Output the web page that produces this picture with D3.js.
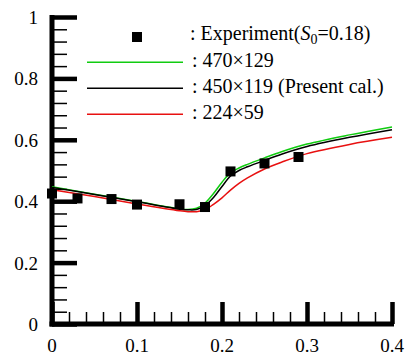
<!DOCTYPE html>
<html>
<head>
<meta charset="utf-8">
<script src="https://cdn.jsdelivr.net/npm/d3@7"></script>
<style>
  body { margin: 0; background: #fff; }
  svg text { font-family: "Liberation Serif", "Times New Roman", serif; fill: #000; }
</style>
</head>
<body>
<div class="chart"></div>
<script>
// experiment (S0 = 0.18)
var expX = [0, 0.03, 0.07, 0.1, 0.15, 0.18, 0.21, 0.25, 0.29];
var expY = [0.425, 0.409, 0.407, 0.389, 0.39, 0.381, 0.497, 0.523, 0.544];

// computed profiles, sampled along x
var curveX = [0, 0.05, 0.1, 0.15, 0.16, 0.17, 0.18, 0.19, 0.2, 0.21, 0.22, 0.23, 0.25, 0.27, 0.3, 0.35, 0.4];
var grid470 = [0.447, 0.423, 0.399, 0.375, 0.373, 0.377, 0.394, 0.425, 0.462, 0.492, 0.508, 0.52, 0.541, 0.561, 0.586, 0.616, 0.642];
var grid450 = [0.445, 0.422, 0.398, 0.374, 0.372, 0.373, 0.386, 0.412, 0.448, 0.482, 0.5, 0.512, 0.533, 0.553, 0.578, 0.608, 0.633];
var grid224 = [0.437, 0.415, 0.391, 0.369, 0.366, 0.366, 0.372, 0.39, 0.411, 0.436, 0.458, 0.476, 0.505, 0.527, 0.555, 0.585, 0.608];

var xTicks = [0, 0.1, 0.2, 0.3, 0.4];
var xMinorTicks = [0.02, 0.04, 0.06, 0.08, 0.12, 0.14, 0.16, 0.18, 0.22, 0.24, 0.26, 0.28, 0.32, 0.34, 0.36, 0.38];
var yTicks = [0, 0.2, 0.4, 0.6, 0.8, 1];
var yMinorTicks = [0.04, 0.08, 0.12, 0.16, 0.24, 0.28, 0.32, 0.36, 0.44, 0.48, 0.52, 0.56, 0.64, 0.68, 0.72, 0.76, 0.84, 0.88, 0.92, 0.96];

var series = [
  { name: ": 470\u00d7129", values: grid470, color: "#10cc10" },
  { name: ": 450\u00d7119 (Present cal.)", values: grid450, color: "#000" },
  { name: ": 224\u00d759", values: grid224, color: "#e81010" }
];

var svgWidth = 406, svgHeight = 355;

var svg = d3.select(".chart").append("svg")
  .attr("width", svgWidth)
  .attr("height", svgHeight);

var x = d3.scaleLinear().domain([0, 0.4]).range([52, 392]);
var y = d3.scaleLinear().domain([0, 1]).range([324, 17]);

// ticks pointing inward
function tickGroup(axis, transform, width) {
  var g = svg.append("g").attr("transform", transform).call(axis);
  g.select(".domain").remove();
  g.selectAll("line").attr("stroke", "#000").attr("stroke-width", width);
  return g;
}

tickGroup(d3.axisRight(y).tickValues(yMinorTicks).tickSize(15).tickFormat(""), "translate(52,0)", 1.5);
tickGroup(d3.axisRight(y).tickValues(yTicks).tickSize(25).tickFormat(""), "translate(52,0)", 4.5);
tickGroup(d3.axisTop(x).tickValues(xMinorTicks).tickSize(12).tickFormat(""), "translate(0,324)", 1.5);
tickGroup(d3.axisTop(x).tickValues(xTicks).tickSize(22).tickFormat(""), "translate(0,324)", 4.5);

// tick labels
var fmt = d3.format("");
svg.append("g").selectAll("text")
  .data(yTicks)
  .enter()
  .append("text")
  .attr("x", 38)
  .attr("y", d => y(d) + 7)
  .attr("text-anchor", "end")
  .style("font-size", "19px")
  .text(fmt);

svg.append("g").selectAll("text")
  .data(xTicks)
  .enter()
  .append("text")
  .attr("x", d => x(d))
  .attr("y", 352)
  .attr("text-anchor", "middle")
  .style("font-size", "19px")
  .text(fmt);

// axis lines
svg.append("line")
  .attr("x1", x(0)).attr("x2", x(0))
  .attr("y1", y(0) + 2.5).attr("y2", y(1) - 2)
  .attr("stroke", "#000").attr("stroke-width", 5);
svg.append("line")
  .attr("x1", x(0) - 2.5).attr("x2", x(0.4) + 2)
  .attr("y1", y(0)).attr("y2", y(0))
  .attr("stroke", "#000").attr("stroke-width", 5);

// curves
var line = d3.line()
  .x(function(d, i) { return x(curveX[i]); })
  .y(function(d) { return y(d); })
  .curve(d3.curveCatmullRom.alpha(0.5));

series.forEach(function(s) {
  svg.append("path")
    .datum(s.values)
    .attr("d", line)
    .attr("fill", "none")
    .attr("stroke", s.color)
    .attr("stroke-width", 1.5);
});

// experiment squares
svg.selectAll("rect.exp")
  .data(expX)
  .enter()
  .append("rect")
  .attr("class", "exp")
  .attr("x", function(d) { return x(d) - 5; })
  .attr("y", function(d, i) { return y(expY[i]) - 5; })
  .attr("width", 10)
  .attr("height", 10)
  .attr("fill", "#000");

// legend
var legend = svg.append("g").style("font-size", "20px");

legend.append("rect")
  .attr("x", 132).attr("y", 32)
  .attr("width", 10).attr("height", 10)
  .attr("fill", "#000");

var expText = legend.append("text").attr("x", 190).attr("y", 40);
expText.append("tspan").text(": Experiment(");
expText.append("tspan").style("font-style", "italic").text("S");
expText.append("tspan").style("font-size", "14px").attr("dy", 4).text("0");
expText.append("tspan").attr("dy", -4).text("=0.18)");

series.forEach(function(s, i) {
  var ly = 62.3 + i * 26;
  legend.append("line")
    .attr("x1", 87).attr("x2", 183)
    .attr("y1", ly).attr("y2", ly)
    .attr("stroke", s.color)
    .attr("stroke-width", 1.5);
  legend.append("text")
    .attr("x", 192)
    .attr("y", ly + 5)
    .text(s.name);
});
</script>
</body>
</html>
